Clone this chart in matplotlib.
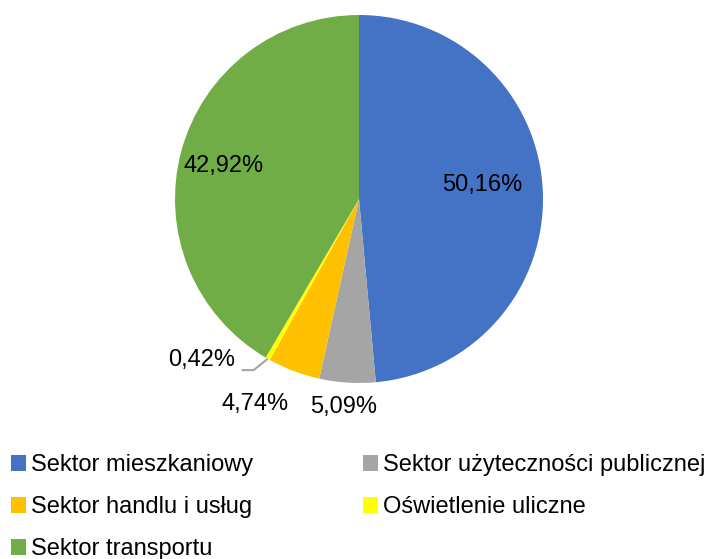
import numpy as np
import matplotlib
matplotlib.use("Agg")
import matplotlib.pyplot as plt
from matplotlib.patches import Patch

plt.rcParams["font.family"] = ["Liberation Sans", "DejaVu Sans"]

categories = [
    "Sektor mieszkaniowy",
    "Sektor użyteczności publicznej",
    "Sektor handlu i usług",
    "Oświetlenie uliczne",
    "Sektor transportu",
]
values = [50.16, 5.09, 4.74, 0.42, 42.92]
colors = ["#4472C4", "#A5A5A5", "#FFC000", "#FFFF00", "#70AD47"]

W, H = 711, 559
fig = plt.figure(figsize=(W / 100, H / 100), dpi=100)

# pie axes: centre (359, 199) px, radius 184 px
cx, cy, r = 359, 199, 184
ax = fig.add_axes([(cx - r) / W, (H - cy - r) / H, 2 * r / W, 2 * r / H])
wedges, _ = ax.pie(values, colors=colors, startangle=90, counterclock=False,
                   radius=1, wedgeprops=dict(linewidth=0))
ax.set_xlim(-1, 1)
ax.set_ylim(-1, 1)
ax.set_aspect("equal")
ax.axis("off")

labels = [f"{v:.2f}".replace(".", ",") + "%" for v in values]
fs = 17
# label positions in pie units
label_pos = [(0.67, 0.075), (-0.085, -1.13), (-0.565, -1.115), (-0.855, -0.876), (-0.735, 0.18)]
for i, (lab, (lx, ly)) in enumerate(zip(labels, label_pos)):
    ax.text(lx, ly, lab, ha="center", va="center", fontsize=fs, color="#000000",
            clip_on=False)

# leader line for the small slice
w = wedges[3]
mid = np.deg2rad((w.theta1 + w.theta2) / 2)
ex, ey = np.cos(mid), np.sin(mid)
ax.plot([-0.638, -0.573, ex], [-0.93, -0.93, ey], color="#A5A5A5", lw=1.5,
        clip_on=False, solid_capstyle="butt")

# legend
handles = [Patch(facecolor=c, edgecolor="none") for c in colors]
order = [0, 2, 4, 1, 3]
fig.legend([handles[i] for i in order], [categories[i] for i in order],
           loc="upper left", bbox_to_anchor=(0.005, 1 - 447 / H), ncol=2,
           frameon=False, fontsize=fs, handlelength=0.65, handleheight=0.65,
           handletextpad=0.2, columnspacing=4.65, labelspacing=0.85,
           borderaxespad=0, borderpad=0.3)

fig.savefig("out.png", dpi=100)
